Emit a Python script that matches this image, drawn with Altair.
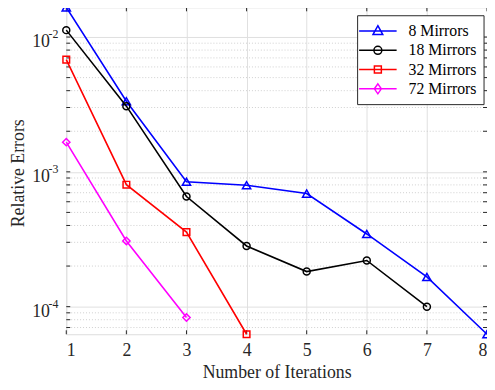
import altair as alt
import pandas as pd

iterations = [1, 2, 3, 4, 5, 6, 7, 8]
err_8 = [0.0166, 3.34e-3, 8.45e-4, 7.96e-4, 6.9e-4, 3.46e-4, 1.66e-4, 6.24e-5]
err_18 = [0.01125, 3.07e-3, 6.56e-4, 2.82e-4, 1.82e-4, 2.2e-4, 1.0e-4]
err_32 = [6.8e-3, 8.03e-4, 3.57e-4, 6.24e-5]
err_72 = [1.66e-3, 3.07e-4, 8.3e-5]

series_names = ["8 Mirrors", "18 Mirrors", "32 Mirrors", "72 Mirrors"]
series_values = [err_8, err_18, err_32, err_72]
series_colors = ["#0000ff", "#000000", "#ff0000", "#ff00ff"]
series_shapes = ["triangle-up", "circle", "square", "diamond"]
series_sizes = [70, 50, 45, 55]

# legend glyphs: a line with the marker in the middle (unit = 8px)
legend_paths = [
    "M-2.375,0H2.375M0,-0.68L0.62,0.45L-0.62,0.45Z",
    "M-2.375,0H2.375M-0.5,0A0.5,0.5 0 1,0 0.5,0A0.5,0.5 0 1,0 -0.5,0",
    "M-2.375,0H2.375M-0.44,-0.44H0.44V0.44H-0.44Z",
    "M-2.375,0H2.375M0,-0.63L0.44,0L0,0.63L-0.44,0Z",
]

y_major = [1e-4, 1e-3, 1e-2]
y_major_exps = ["-4", "-3", "-2"]
y_minor = [7e-5, 8e-5, 9e-5,
           2e-4, 3e-4, 4e-4, 5e-4, 6e-4, 7e-4, 8e-4, 9e-4,
           2e-3, 3e-3, 4e-3, 5e-3, 6e-3, 7e-3, 8e-3, 9e-3]
y_domain = [6.24e-5, 0.0166]
x_domain = [1, 8]

W, H = 426, 331
FONT = "Liberation Serif"
INK = "#262626"

xscale = alt.Scale(domain=x_domain, nice=False, zero=False)
yscale = alt.Scale(type="log", domain=y_domain, nice=False)

x_axis = alt.Axis(values=iterations, format="d", grid=True, gridColor="#e0e0e0", domain=False, ticks=False,
                  labelFont=FONT, labelFontSize=18, labelColor=INK, labelPadding=8,
                  title="Number of Iterations", titleFont=FONT, titleFontSize=18,
                  titleFontWeight="normal", titleColor=INK, titlePadding=4)
y_axis = alt.Axis(values=y_major, grid=True, gridColor="#e0e0e0", domain=False, ticks=False,
                  labelExpr="'10'", labelFont=FONT, labelFontSize=18, labelColor=INK,
                  labelPadding=17, labelBaseline="alphabetic", labelOffset=10,
                  title="Relative Errors", titleFont=FONT, titleFontSize=18,
                  titleFontWeight="normal", titleColor=INK,
                  titleX=-48, titleY=H / 2 + 2, titleAlign="center", titleBaseline="middle", titleAngle=-90)

# minor grid (dotted)
minor_df = pd.DataFrame({"v": y_minor})
minor_grid = alt.Chart(minor_df).mark_rule(color="#c4c4c4", strokeDash=[1, 2], strokeWidth=0.8).encode(
    y=alt.Y("v:Q", scale=yscale, axis=y_axis)
)

# exponents of the y tick labels
exp_df = pd.DataFrame({"v": y_major, "t": y_major_exps})
exponents = alt.Chart(exp_df).mark_text(font=FONT, fontSize=12, color=INK, align="left",
                                         baseline="alphabetic", dy=1).encode(
    y=alt.Y("v:Q", scale=yscale), x=alt.value(-18), text="t:N")

# inward ticks
xt_df = pd.DataFrame({"x": iterations})
ticks_top = alt.Chart(xt_df).mark_rule(color=INK).encode(
    x=alt.X("x:Q", scale=xscale, axis=x_axis), y=alt.value(0), y2=alt.value(4))
ticks_bot = alt.Chart(xt_df).mark_rule(color=INK).encode(
    x=alt.X("x:Q", scale=xscale), y=alt.value(H - 4), y2=alt.value(H))
yt_df = pd.DataFrame({"v": y_major + y_minor})
ticks_left = alt.Chart(yt_df).mark_rule(color=INK).encode(
    y=alt.Y("v:Q", scale=yscale), x=alt.value(0), x2=alt.value(4))
ticks_right = alt.Chart(yt_df).mark_rule(color=INK).encode(
    y=alt.Y("v:Q", scale=yscale), x=alt.value(W - 4), x2=alt.value(W))

layers = [minor_grid, exponents, ticks_top, ticks_bot, ticks_left, ticks_right]

all_rows = []
for name, vals, col, shp, sz in zip(series_names, series_values, series_colors, series_shapes, series_sizes):
    df = pd.DataFrame({"it": iterations[:len(vals)], "err": vals, "series": name})
    all_rows.append(df)
    base = alt.Chart(df).encode(x=alt.X("it:Q", scale=xscale), y=alt.Y("err:Q", scale=yscale))
    layers.append(base.mark_line(color=col, strokeWidth=1.6, clip=False))
    layers.append(base.mark_point(color=col, shape=shp, size=sz, filled=False, strokeWidth=1.5, opacity=1))

full = pd.concat(all_rows)
legend_layer = alt.Chart(full).mark_point(opacity=0, filled=False).encode(
    x=alt.X("it:Q", scale=xscale),
    y=alt.Y("err:Q", scale=yscale),
    color=alt.Color("series:N", scale=alt.Scale(domain=series_names, range=series_colors),
                    legend=alt.Legend(title=None, orient="none", legendX=294.5, legendY=8,
                                      symbolSize=256, symbolStrokeWidth=1.5, symbolOpacity=1,
                                      symbolOffset=5,
                                      labelFont=FONT, labelFontSize=16, labelColor="#000000",
                                      strokeColor=INK, fillColor="#ffffff", padding=7,
                                      rowPadding=2.5, labelOffset=22)),
    shape=alt.Shape("series:N", scale=alt.Scale(domain=series_names, range=legend_paths)),
)
layers.append(legend_layer)

chart = alt.layer(*layers).properties(
    width=W, height=H,
    autosize=alt.AutoSizeParams(type="none"),
    padding={"left": 59, "top": -3, "right": 0, "bottom": 46},
).configure_view(stroke=INK, strokeWidth=1).configure_legend(
    labelFont=FONT, labelFontSize=16
).configure(background="white")

chart.save("out.html", embed_options={"renderer": "svg", "actions": False})
